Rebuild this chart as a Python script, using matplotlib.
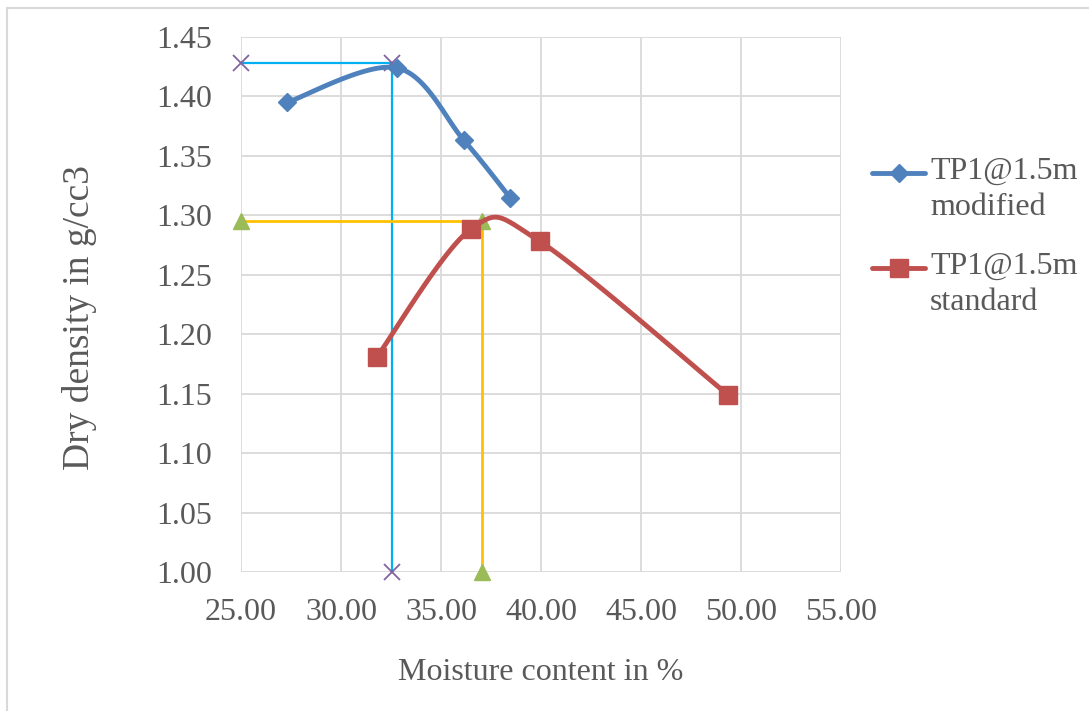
import numpy as np
import matplotlib
matplotlib.use("Agg")
import matplotlib.pyplot as plt
from matplotlib.lines import Line2D

plt.rcParams['font.family'] = ['Liberation Serif', 'DejaVu Serif']

# Compaction test data
mod_moisture = [27.3, 32.8, 36.15, 38.45]
mod_density = [1.395, 1.424, 1.363, 1.315]
std_moisture = [31.8, 36.5, 39.95, 49.35]
std_density = [1.181, 1.2885, 1.278, 1.149]

# OMC / MDD construction lines
mod_omc, mod_mdd = 32.55, 1.428
std_omc, std_mdd = 37.05, 1.295

labels = ["TP1@1.5m\nmodified", "TP1@1.5m\nstandard"]
x_ticks = [25, 30, 35, 40, 45, 50, 55]
y_ticks = [1.00, 1.05, 1.10, 1.15, 1.20, 1.25, 1.30, 1.35, 1.40, 1.45]

BLUE = "#4F81BD"
RED = "#C0504D"
CYAN = "#00B0F0"
YELLOW = "#FFC000"
PURPLE = "#8064A2"
GREEN = "#9BBB59"
TEXT = "#595959"
GRID = "#D9D9D9"
FS = 23

W, H = 1089, 711


def smooth(xs, ys, n=40):
    """Bezier smoothing through the points (spreadsheet-style smoothed line)."""
    p = np.column_stack([xs, ys]).astype(float)
    pts = [p[0]]
    m = len(p)
    for i in range(m - 1):
        p0 = p[i - 1] if i > 0 else p[i]
        p1, p2 = p[i], p[i + 1]
        p3 = p[i + 2] if i + 2 < m else p[i + 1]
        c1 = p1 + (p2 - p0) / 6.0
        c2 = p2 - (p3 - p1) / 6.0
        t = np.linspace(0, 1, n)[1:, None]
        seg = ((1 - t) ** 3) * p1 + 3 * ((1 - t) ** 2) * t * c1 + 3 * (1 - t) * t ** 2 * c2 + t ** 3 * p2
        pts.extend(seg)
    pts = np.array(pts)
    return pts[:, 0], pts[:, 1]


fig = plt.figure(figsize=(W / 100, H / 100), dpi=100)
ax = fig.add_axes([241 / W, 1 - 572 / H, 600 / W, 535 / H])

ax.set_xlim(25, 55)
ax.set_ylim(1.00, 1.45)
ax.set_xticks(x_ticks)
ax.set_yticks(y_ticks)
ax.set_xticklabels([f"{v:.2f}" for v in x_ticks])
ax.set_yticklabels([f"{v:.2f}" for v in y_ticks])
ax.grid(True, color=GRID, linewidth=1.3)
ax.set_axisbelow(True)
for s in ax.spines.values():
    s.set_visible(False)
ax.tick_params(length=0, labelsize=FS, colors=TEXT)
ax.tick_params(axis='y', pad=21)
ax.tick_params(axis='x', pad=19)

# construction lines
ax.plot([25, mod_omc, mod_omc], [mod_mdd, mod_mdd, 1.00], color=CYAN, lw=1.6,
        marker='x', ms=12, mec=PURPLE, mew=1.3, clip_on=False, zorder=3)
ax.plot([25, std_omc, std_omc], [std_mdd, std_mdd, 1.00], color=YELLOW, lw=2.0,
        marker='^', ms=12, mfc=GREEN, mec=GREEN, clip_on=False, zorder=3)

sx, sy = smooth(mod_moisture, mod_density)
ax.plot(sx, sy, color=BLUE, lw=3.5, zorder=4, solid_capstyle='round')
ax.plot(mod_moisture, mod_density, ls='none', marker='D', ms=9, color=BLUE, zorder=5)

sx, sy = smooth(std_moisture, std_density)
ax.plot(sx, sy, color=RED, lw=3.5, zorder=4, solid_capstyle='round')
ax.plot(std_moisture, std_density, ls='none', marker='s', ms=12.5, color=RED, zorder=5)

ax.set_xlabel("Moisture content in %", fontsize=FS, color=TEXT)
ax.xaxis.set_label_coords(0.5, (572 - 673) / 535)
ax.xaxis.label.set_va('center')
ax.set_ylabel("Dry density in g/cc3", fontsize=27, color=TEXT)
ax.yaxis.set_label_coords((80 - 241) / 600, (572 - 318) / 535)
ax.yaxis.label.set_va('center')

# legend: handle aligned with the first line of each label
legend_items = [(BLUE, 'D', 9, 173), (RED, 's', 12.5, 268)]
for (color, mk, ms, yc), text in zip(legend_items, labels):
    yf = 1 - yc / H
    fig.add_artist(Line2D([872 / W, 925 / W], [yf, yf], color=color, lw=3.5,
                          solid_capstyle='round'))
    fig.add_artist(Line2D([898.5 / W], [yf], color=color, marker=mk, ms=ms, ls='none'))
    fig.text(930 / W, 1 - (yc - 16) / H, text, fontsize=FS, color=TEXT,
             va='top', ha='left', linespacing=1.3)

# chart outline
fig.add_artist(Line2D([7 / W, 7 / W], [0, 1 - 8 / H], color=GRID, lw=1.5))
fig.add_artist(Line2D([7 / W, 1], [1 - 8 / H, 1 - 8 / H], color=GRID, lw=1.5))

fig.savefig("out.png", dpi=100)
